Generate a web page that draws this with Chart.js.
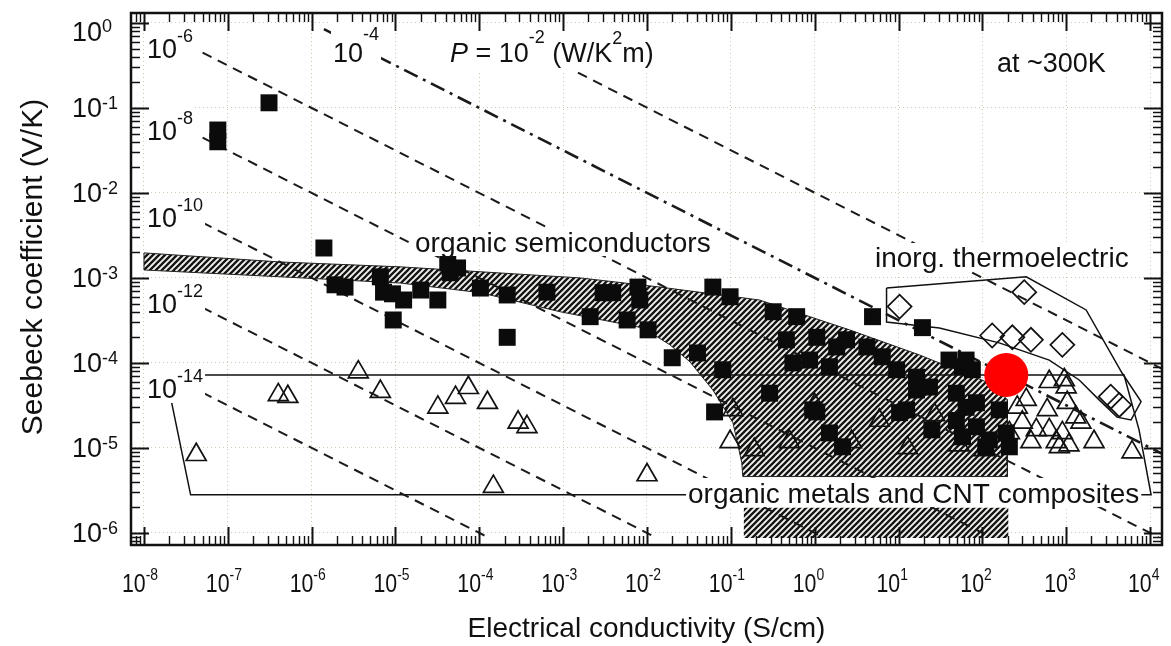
<!DOCTYPE html>
<html>
<head>
<meta charset="utf-8">
<title>Seebeck vs conductivity</title>
<script src="https://cdn.jsdelivr.net/npm/chart.js@4.4.1/dist/chart.umd.min.js"></script>
<style>
  html, body { margin: 0; padding: 0; background: #fff; }
  #wrap { width: 1171px; height: 646px; }
</style>
</head>
<body>
<div id="wrap"><canvas id="grafico" width="1171" height="646"></canvas></div>
<script>
const FONT = '"Liberation Sans", Arial, sans-serif';

// decades shown on the axes (powers of ten)
const xDecades = [-8, -7, -6, -5, -4, -3, -2, -1, 0, 1, 2, 3, 4];
const yDecades = [-6, -5, -4, -3, -2, -1, 0];
const xRange = [7.2e-9, 1.39e4];
const yRange = [7.2e-7, 1.31];

// [conductivity S/cm, Seebeck V/K]
const organicSemi = [
  [7.6e-8, 5.5e-2], [7.6e-8, 4.0e-2], [3.1e-7, 0.115], [1.4e-6, 2.25e-3], [1.9e-6, 8.3e-4],
  [2.5e-6, 7.8e-4], [6.6e-6, 1.03e-3], [7.2e-6, 6.8e-4], [9.2e-6, 6.5e-4], [9.4e-6, 3.2e-4],
  [1.25e-5, 5.5e-4], [2.0e-5, 7.2e-4], [3.2e-5, 5.5e-4], [4.2e-5, 1.5e-3], [4.5e-5, 1.15e-3],
  [5.5e-5, 1.31e-3], [1.03e-4, 7.6e-4], [2.15e-4, 6.3e-4], [2.15e-4, 2.0e-4], [6.4e-4, 6.8e-4],
  [2.1e-3, 3.5e-4], [3.0e-3, 6.7e-4], [3.9e-3, 6.7e-4], [7.8e-3, 7.8e-4], [8.2e-3, 5.5e-4],
  [5.8e-3, 3.2e-4], [1.03e-2, 2.45e-4], [2.0e-2, 1.15e-4], [4.0e-2, 1.31e-4], [6.1e-2, 7.8e-4],
  [9.8e-2, 6.0e-4], [8.0e-2, 8.3e-5], [6.4e-2, 2.65e-5], [0.32, 4.0e-4], [0.46, 1.87e-4],
  [0.55, 1.0e-4], [0.29, 4.4e-5], [4.9, 3.5e-4], [19.3, 2.6e-4], [0.61, 3.5e-4],
  [1.06, 2.0e-4], [1.83, 1.54e-4], [2.4, 1.87e-4], [4.2, 1.54e-4], [6.4, 1.18e-4],
  [0.87, 1.08e-4], [1.5, 9.0e-5], [9.5, 8.3e-5], [16.4, 6.8e-5], [23.4, 5.2e-5],
  [40, 1.08e-4], [58, 9.0e-5], [76, 8.3e-5], [49, 4.4e-5], [85, 3.4e-5],
  [159, 2.8e-5], [12.5, 2.8e-5], [0.95, 2.8e-5], [1.5, 1.5e-5], [2.15, 1.03e-5],
  [25, 1.63e-5], [49, 2.1e-5], [85, 1.77e-5], [121, 1.24e-5], [193, 1.5e-5],
  [210, 1.03e-5], [58, 1.35e-5], [16.4, 4.8e-5], [64, 1.08e-4], [64, 3.0e-5],
  [110, 1.03e-5], [1.06, 2.65e-5], [10.3, 2.6e-5]
];

const organicMetals = [
  [4.2e-8, 8.3e-6], [4.0e-7, 4.2e-5], [5.2e-7, 4.0e-5], [3.6e-6, 7.8e-5], [6.6e-6, 4.6e-5],
  [3.2e-5, 3.0e-5], [5.2e-5, 3.9e-5], [7.4e-5, 5.1e-5], [1.25e-4, 3.4e-5], [2.9e-4, 2.0e-5],
  [3.7e-4, 1.77e-5], [1.47e-4, 3.5e-6], [1.0e-2, 4.8e-6], [9.8e-2, 1.18e-5], [0.106, 2.8e-5],
  [628, 6.0e-5], [950, 6.3e-5], [1000, 5.2e-5], [334, 3.7e-5], [261, 3.0e-5],
  [594, 2.8e-5], [1030, 3.4e-5], [300, 2.0e-5], [440, 1.63e-5], [628, 1.63e-5],
  [900, 1.5e-5], [1300, 2.3e-5], [1500, 2.0e-5], [830, 1.03e-5], [1080, 1.08e-5],
  [2150, 1.18e-5], [6100, 8.9e-6], [210, 1.5e-5], [380, 1.18e-5], [760, 1.18e-5],
  [0.19, 9.5e-6], [0.5, 1.18e-5], [1.0, 3.2e-5], [2.75, 1.18e-5], [5.9, 2.1e-5],
  [27, 2.45e-5], [53, 1.08e-5], [105, 9.5e-6], [12.8, 1.0e-5]
];

const inorganic = [
  [10.3, 4.6e-4], [316, 6.8e-4], [131, 2.1e-4], [228, 2.0e-4],
  [380, 1.87e-4], [900, 1.63e-4], [3400, 4.0e-5], [4300, 3.2e-5]
];

const highlight = [[193, 7.2e-5]];

// iso power-factor lines P = S^2 * sigma, end points [sigma, S]
const isoLines = [
  { p: '10^-2', from: [1.5e-3, 0.26], to: [1.4e4, 8.5e-5], dashDot: false },
  { p: '10^-4', from: [1.4e-6, 0.845], to: [1.4e4, 8.5e-6], dashDot: true },
  { p: '10^-6', from: [5e-8, 0.447], to: [1.26e4, 8.9e-7], dashDot: false },
  { p: '10^-8', from: [5e-8, 4.47e-2], to: [126, 8.9e-7], dashDot: false },
  { p: '10^-10', from: [5e-8, 4.47e-3], to: [1.26, 8.9e-7], dashDot: false },
  { p: '10^-12', from: [5e-8, 4.47e-4], to: [1.26e-2, 8.9e-7], dashDot: false },
  { p: '10^-14', from: [5e-8, 4.47e-5], to: [1.26e-4, 8.9e-7], dashDot: false }
];

// shaded band of organic semiconductors (closed outline)
const semiBand = [
  [1e-8, 1.97e-3], [4.3e-7, 1.54e-3], [1.15e-5, 1.35e-3], [1.6e-3, 1.0e-3], [1.43e-2, 7.8e-4],
  [0.22, 5.5e-4], [0.5, 4.2e-4], [2.6, 2.45e-4], [17.8, 1.24e-4], [121, 5.8e-5],
  [199, 3.7e-5], [199, 4.6e-6], [0.139, 4.6e-6], [0.135, 6.7e-6], [0.106, 1.97e-5],
  [0.061, 4.8e-5], [0.0325, 1.03e-4], [0.0188, 1.63e-4], [8.95e-3, 2.58e-4], [9.2e-4, 4.0e-4],
  [1.03e-4, 6.7e-4], [1.15e-5, 8.7e-4], [4.3e-7, 1.03e-3], [1e-8, 1.24e-3], [1e-8, 1.97e-3]
];
const cntBox = [[0.143, 1.97e-6], [204, 1.97e-6], [204, 8.7e-7], [0.143, 8.7e-7], [0.143, 1.97e-6]];

// outlines of the organic metal and inorganic regions
const metalsOutline = [[1.83e-8, 7.2e-5], [4900, 7.2e-5], [7400, 1.63e-5], [1.03e4, 2.8e-6], [3.6e-8, 2.8e-6], [1.83e-8, 7.2e-5]];
const inorgOutline = [
  [7.2, 7.6e-4], [334, 1.03e-3], [1730, 4.2e-4], [4640, 7.6e-5], [7820, 3.5e-5],
  [5940, 2.13e-5], [4050, 2.3e-5], [2470, 3.67e-5], [1430, 6.3e-5], [628, 1.08e-4],
  [159, 1.72e-4], [30.8, 2.58e-4], [7.2, 3.03e-4], [7.2, 7.6e-4]
];

const toXY = arr => arr.map(([x, y]) => ({ x, y }));

function hatchPattern(ctx) {
  const c = document.createElement('canvas');
  c.width = 6; c.height = 6;
  const g = c.getContext('2d');
  g.fillStyle = '#f2f2ee';
  g.fillRect(0, 0, 6, 6);
  g.strokeStyle = '#151515';
  g.lineWidth = 2.3;
  g.beginPath();
  g.moveTo(-1, 7); g.lineTo(7, -1);
  g.moveTo(-4, 4); g.lineTo(4, -4);
  g.moveTo(2, 10); g.lineTo(10, 2);
  g.stroke();
  return ctx.createPattern(c, 'repeat');
}

// text runs: size, vertical shift, italic; sx squeezes horizontally
function runsWidth(ctx, runs) {
  let w = 0;
  runs.forEach(r => {
    ctx.font = (r.i ? 'italic ' : '') + r.s + 'px ' + FONT;
    w += ctx.measureText(r.t).width;
  });
  return w;
}
function drawRuns(ctx, x, y, runs, sx) {
  ctx.save();
  ctx.translate(x, y);
  if (sx) ctx.scale(sx, 1);
  ctx.fillStyle = '#111';
  ctx.textBaseline = 'alphabetic';
  ctx.textAlign = 'left';
  let cx = 0;
  runs.forEach(r => {
    ctx.font = (r.i ? 'italic ' : '') + r.s + 'px ' + FONT;
    ctx.fillText(r.t, cx, r.dy || 0);
    cx += ctx.measureText(r.t).width;
  });
  ctx.restore();
}

const isoLabel = (x, y, e) => ({ x, y, bg: [34, 5], runs: [{ t: '10', s: 27 }, { t: e, s: 18, dy: -16 }] });
const annotations = [
  isoLabel(147, 58, '-6'),
  isoLabel(147, 140, '-8'),
  isoLabel(147, 227, '-10'),
  isoLabel(147, 313, '-12'),
  isoLabel(147, 398, '-14'),
  { x: 333, y: 62, bg: [40, 4], runs: [{ t: '10', s: 27 }, { t: '-4', s: 18, dy: -22 }] },
  { x: 450, y: 62, bg: [32, 8], runs: [
    { t: 'P', s: 27, i: true }, { t: ' = 10', s: 27 }, { t: '-2', s: 18, dy: -19 },
    { t: ' (W/K', s: 27 }, { t: '2', s: 18, dy: -18 }, { t: 'm)', s: 27 }] },
  { x: 997, y: 72, runs: [{ t: 'at ~300K', s: 27 }] },
  { x: 415, y: 252, bg: [24, 4], runs: [{ t: 'organic semiconductors', s: 28 }] },
  { x: 875, y: 267, bg: [24, 4], runs: [{ t: 'inorg. thermoelectric', s: 28 }] },
  { x: 688, y: 503, bg: [25, 4], runs: [{ t: 'organic metals and CNT composites', s: 28 }] }
];

const decor = {
  id: 'decor',
  afterDatasetsDraw(chart) {
    const ctx = chart.ctx;
    ctx.save();
    annotations.forEach(a => {
      if (a.bg) {
        const w = runsWidth(ctx, a.runs);
        ctx.fillStyle = '#fff';
        ctx.fillRect(a.x - 2, a.y - a.bg[0], w + 4, a.bg[0] + a.bg[1]);
      }
      drawRuns(ctx, a.x, a.y, a.runs);
    });
    ctx.restore();
  },
  afterDraw(chart) {
    const { ctx, chartArea: a, scales: { x, y } } = chart;
    ctx.save();
    ctx.strokeStyle = '#111';
    // minor and major ticks on all four sides, pointing inwards
    const tick = (width, fn) => { ctx.lineWidth = width; ctx.beginPath(); fn(); ctx.stroke(); };
    for (let e = xDecades[0] - 1; e <= xDecades[xDecades.length - 1]; e++) {
      for (let m = 1; m <= 9; m++) {
        const v = m * Math.pow(10, e);
        if (v < xRange[0] || v > xRange[1]) continue;
        const px = Math.round(x.getPixelForValue(v)) + 0.5;
        const len = m === 1 ? 18 : 9;
        tick(m === 1 ? 2 : 1.4, () => {
          ctx.moveTo(px, a.bottom); ctx.lineTo(px, a.bottom - len);
          ctx.moveTo(px, a.top); ctx.lineTo(px, a.top + len);
        });
      }
    }
    for (let e = yDecades[0] - 1; e <= yDecades[yDecades.length - 1]; e++) {
      for (let m = 1; m <= 9; m++) {
        const v = m * Math.pow(10, e);
        if (v < yRange[0] || v > yRange[1]) continue;
        const py = Math.round(y.getPixelForValue(v)) + 0.5;
        const len = m === 1 ? 18 : 9;
        tick(m === 1 ? 2 : 1.4, () => {
          ctx.moveTo(a.left, py); ctx.lineTo(a.left + len, py);
          ctx.moveTo(a.right, py); ctx.lineTo(a.right - len, py);
        });
      }
    }
    ctx.lineWidth = 2.5;
    ctx.strokeRect(a.left, a.top, a.right - a.left, a.bottom - a.top);

    // tick labels 10^n
    xDecades.forEach(e => {
      const px = x.getPixelForValue(Math.pow(10, e));
      drawRuns(ctx, px - 22, 592, [{ t: '10', s: 26 }, { t: String(e), s: 17, dy: -12 }], 0.82);
    });
    yDecades.forEach(e => {
      const py = Math.max(y.getPixelForValue(Math.pow(10, e)), 31);
      drawRuns(ctx, 72, py + 9.5, [{ t: '10', s: 27 }, { t: String(e), s: 18, dy: -8.5 }]);
    });

    // y axis title
    ctx.save();
    ctx.translate(42, 267);
    ctx.rotate(-Math.PI / 2);
    ctx.fillStyle = '#111';
    ctx.font = '30px ' + FONT;
    ctx.textAlign = 'center';
    ctx.fillText('Seebeck coefficient (V/K)', 0, 0);
    ctx.restore();
    ctx.restore();
  }
};

const canvas = document.getElementById('grafico');
const ctx = canvas.getContext('2d');
const hatch = hatchPattern(ctx);

const lineSets = isoLines.map(l => ({
  label: 'P = ' + l.p,
  data: toXY([l.from, l.to]),
  showLine: true,
  pointRadius: 0,
  borderColor: '#1a1a1a',
  borderWidth: l.dashDot ? 2.6 : 2,
  borderDash: l.dashDot ? [15, 6, 3, 6] : [10, 7],
  fill: false,
  order: 4
}));

new Chart(ctx, {
  type: 'scatter',
  data: {
    datasets: [
      { label: 'highlight', data: toXY(highlight), pointRadius: 22, pointBackgroundColor: '#ff0000', backgroundColor: '#ff0000', pointBorderWidth: 0, borderWidth: 0, order: 0 },
      { label: 'organic semiconductors', data: toXY(organicSemi), pointStyle: 'rect', pointRadius: 12,
        pointBackgroundColor: '#0b0b0b', backgroundColor: '#0b0b0b', pointBorderWidth: 0, borderWidth: 0, order: 1 },
      { label: 'organic metals and CNT composites', data: toXY(organicMetals), pointStyle: 'triangle', pointRadius: 11.5,
        pointBackgroundColor: 'rgba(0,0,0,0)', backgroundColor: 'rgba(0,0,0,0)', pointBorderColor: '#111', borderColor: '#111', pointBorderWidth: 1.7, borderWidth: 1.7, order: 2 },
      { label: 'inorg. thermoelectric', data: toXY(inorganic), pointStyle: 'rectRot', pointRadius: 12,
        pointBackgroundColor: 'rgba(0,0,0,0)', backgroundColor: 'rgba(0,0,0,0)', pointBorderColor: '#111', borderColor: '#111', pointBorderWidth: 1.7, borderWidth: 1.7, order: 3 },
      ...lineSets,
      { label: 'metals outline', data: toXY(metalsOutline), showLine: true, pointRadius: 0, borderColor: '#111', borderWidth: 1.5, fill: false, order: 5 },
      { label: 'inorganic outline', data: toXY(inorgOutline), showLine: true, pointRadius: 0, borderColor: '#111', borderWidth: 1.5, fill: false, order: 5 },
      { label: 'semiconductor band', data: toXY(semiBand), showLine: true, pointRadius: 0, borderColor: '#222', borderWidth: 1, backgroundColor: hatch, fill: 'shape', order: 6 },
      { label: 'CNT band', data: toXY(cntBox), showLine: true, pointRadius: 0, borderColor: 'rgba(0,0,0,0)', borderWidth: 0, backgroundColor: hatch, fill: 'shape', order: 6 }
    ]
  },
  options: {
    responsive: false,
    animation: false,
    devicePixelRatio: 1,
    events: [],
    layout: { autoPadding: false, padding: { top: 13, right: 9, left: 0, bottom: 0 } },
    plugins: { legend: { display: false }, tooltip: { enabled: false } },
    scales: {
      x: {
        type: 'logarithmic',
        min: xRange[0],
        max: xRange[1],
        afterBuildTicks: s => { s.ticks = xDecades.map(e => ({ value: Math.pow(10, e) })); },
        afterFit: s => { s.height = 101; },
        ticks: { display: false },
        grid: { color: 'rgba(160,150,100,0.5)', lineWidth: 1, drawTicks: false },
        border: { display: false, dash: [1, 3] },
        title: { display: true, text: 'Electrical conductivity (S/cm)', color: '#111', font: { family: FONT, size: 28 }, padding: { top: 0, bottom: 0 } }
      },
      y: {
        type: 'logarithmic',
        min: yRange[0],
        max: yRange[1],
        afterBuildTicks: s => { s.ticks = yDecades.map(e => ({ value: Math.pow(10, e) })); },
        afterFit: s => { s.width = 131; },
        ticks: { display: false },
        grid: { color: 'rgba(160,150,100,0.5)', lineWidth: 1, drawTicks: false },
        border: { display: false, dash: [1, 3] },
        title: { display: false }
      }
    }
  },
  plugins: [decor]
});
</script>
</body>
</html>
